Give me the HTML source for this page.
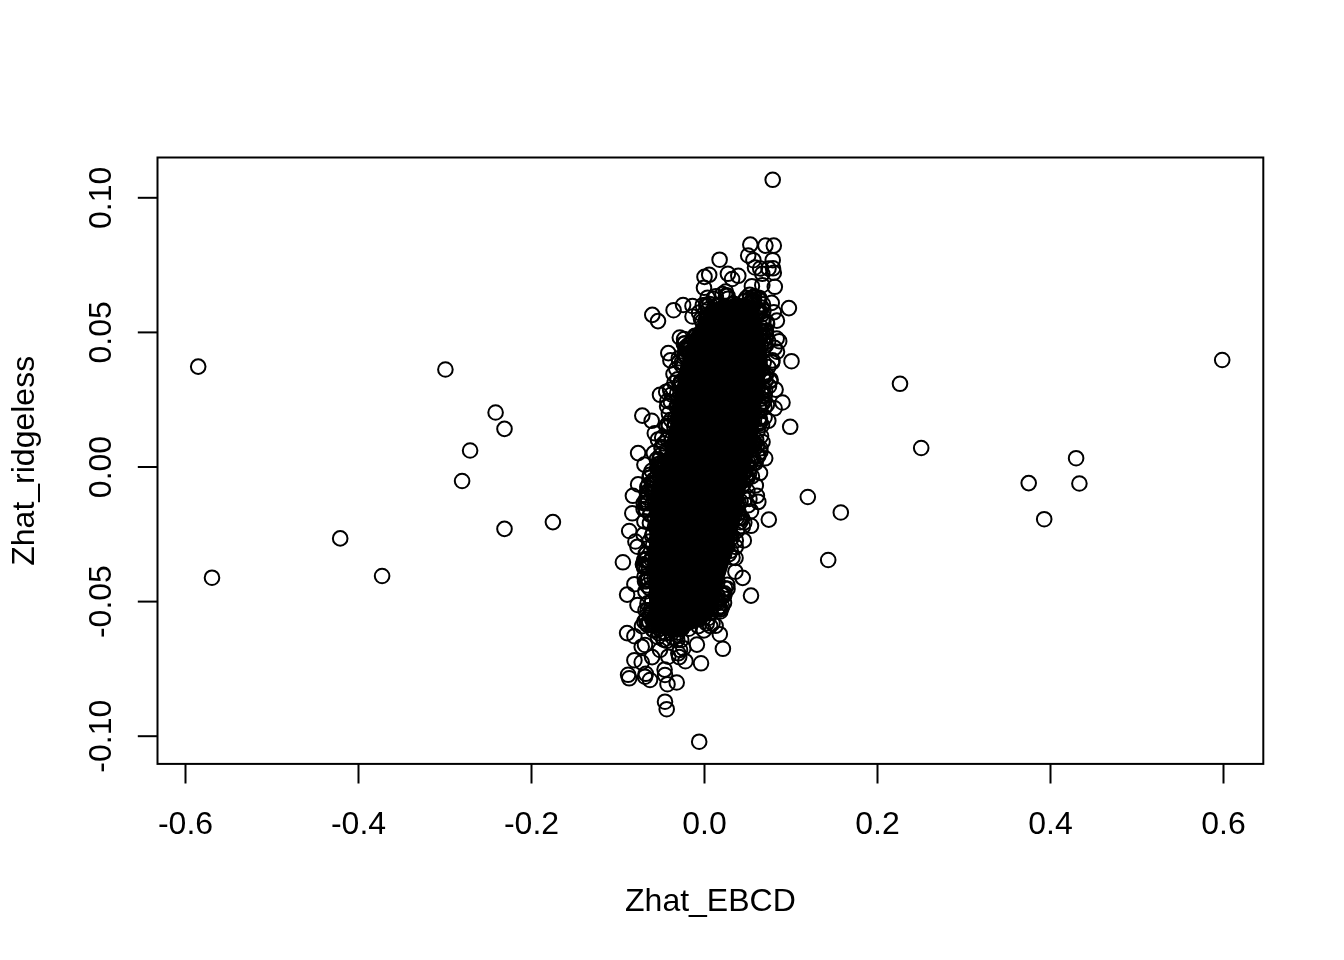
<!DOCTYPE html>
<html><head><meta charset="utf-8"><style>
html,body{margin:0;padding:0;background:#fff;}
body{width:1344px;height:960px;overflow:hidden;}
svg{display:block;will-change:transform;}
text{font-family:"Liberation Sans",sans-serif;font-size:32px;fill:#000;}
</style></head><body>
<svg width="1344" height="960" viewBox="0 0 1344 960">
<rect x="0" y="0" width="1344" height="960" fill="#fff"/>

<rect x="157.5" y="157.5" width="1105.8" height="606.4" fill="none" stroke="#000" stroke-width="2"/>
<line x1="185.50" y1="763.9" x2="185.50" y2="783.5" stroke="#000" stroke-width="2"/><text x="185.50" y="834" text-anchor="middle">-0.6</text><line x1="358.50" y1="763.9" x2="358.50" y2="783.5" stroke="#000" stroke-width="2"/><text x="358.50" y="834" text-anchor="middle">-0.4</text><line x1="531.50" y1="763.9" x2="531.50" y2="783.5" stroke="#000" stroke-width="2"/><text x="531.50" y="834" text-anchor="middle">-0.2</text><line x1="704.50" y1="763.9" x2="704.50" y2="783.5" stroke="#000" stroke-width="2"/><text x="704.50" y="834" text-anchor="middle">0.0</text><line x1="877.50" y1="763.9" x2="877.50" y2="783.5" stroke="#000" stroke-width="2"/><text x="877.50" y="834" text-anchor="middle">0.2</text><line x1="1050.50" y1="763.9" x2="1050.50" y2="783.5" stroke="#000" stroke-width="2"/><text x="1050.50" y="834" text-anchor="middle">0.4</text><line x1="1223.50" y1="763.9" x2="1223.50" y2="783.5" stroke="#000" stroke-width="2"/><text x="1223.50" y="834" text-anchor="middle">0.6</text>
<line x1="137.8" y1="197.80" x2="157.5" y2="197.80" stroke="#000" stroke-width="2"/><text transform="translate(111,197.80) rotate(-90)" text-anchor="middle">0.10</text><line x1="137.8" y1="332.40" x2="157.5" y2="332.40" stroke="#000" stroke-width="2"/><text transform="translate(111,332.40) rotate(-90)" text-anchor="middle">0.05</text><line x1="137.8" y1="467.00" x2="157.5" y2="467.00" stroke="#000" stroke-width="2"/><text transform="translate(111,467.00) rotate(-90)" text-anchor="middle">0.00</text><line x1="137.8" y1="601.60" x2="157.5" y2="601.60" stroke="#000" stroke-width="2"/><text transform="translate(111,601.60) rotate(-90)" text-anchor="middle">-0.05</text><line x1="137.8" y1="736.20" x2="157.5" y2="736.20" stroke="#000" stroke-width="2"/><text transform="translate(111,736.20) rotate(-90)" text-anchor="middle">-0.10</text>
<text x="710.4" y="910.5" text-anchor="middle">Zhat_EBCD</text>
<text transform="translate(33.75,460.8) rotate(-90)" text-anchor="middle">Zhat_ridgeless</text>
<path d="M689.5,335.2 L684.8,349.3 L681.9,364.0 L681.9,364.2 L671.9,405.8 L670.0,426.5 L669.9,426.9 L665.9,447.9 L665.8,448.4 L665.7,448.8 L659.7,464.8 L659.7,464.8 L652.8,482.4 L649.0,502.3 L650.0,521.8 L650.0,522.2 L649.0,543.2 L649.0,543.5 L647.0,564.0 L649.0,584.5 L649.0,585.0 L649.0,606.0 L649.0,606.4 L648.9,606.8 L646.3,622.7 L653.9,632.6 L670.0,636.8 L687.3,632.3 L706.6,623.1 L714.5,611.6 L719.2,599.6 L723.1,581.9 L723.3,581.4 L729.2,563.6 L734.1,542.8 L734.2,542.6 L740.1,522.0 L743.1,501.3 L743.1,501.0 L747.1,481.0 L747.1,480.8 L752.1,459.8 L752.3,459.3 L757.1,445.9 L759.0,426.5 L761.0,405.5 L761.1,405.3 L764.1,384.3 L764.1,384.1 L767.9,361.9 L766.1,345.7 L762.1,322.9 L757.7,302.0 L744.5,298.1 L719.5,299.9 L709.4,305.8 L700.1,318.8 L689.5,335.2 Z" fill="#000"/>
<g fill="none" stroke="#000" stroke-width="2.0"><circle cx="763.4" cy="310.9" r="7.3"/><circle cx="655.0" cy="518.6" r="7.3"/><circle cx="717.7" cy="595.8" r="7.3"/><circle cx="645.5" cy="610.3" r="7.3"/><circle cx="743.8" cy="306.7" r="7.3"/><circle cx="662.2" cy="465.1" r="7.3"/><circle cx="658.9" cy="519.7" r="7.3"/><circle cx="732.5" cy="557.5" r="7.3"/><circle cx="769.0" cy="386.2" r="7.3"/><circle cx="679.9" cy="412.0" r="7.3"/><circle cx="701.0" cy="319.1" r="7.3"/><circle cx="680.8" cy="382.7" r="7.3"/><circle cx="762.9" cy="375.1" r="7.3"/><circle cx="706.6" cy="319.5" r="7.3"/><circle cx="730.6" cy="550.8" r="7.3"/><circle cx="757.9" cy="388.1" r="7.3"/><circle cx="763.2" cy="377.0" r="7.3"/><circle cx="749.6" cy="434.0" r="7.3"/><circle cx="661.0" cy="463.1" r="7.3"/><circle cx="653.2" cy="619.2" r="7.3"/><circle cx="684.1" cy="339.1" r="7.3"/><circle cx="753.6" cy="301.8" r="7.3"/><circle cx="646.3" cy="553.7" r="7.3"/><circle cx="679.7" cy="384.7" r="7.3"/><circle cx="657.2" cy="468.2" r="7.3"/><circle cx="757.0" cy="445.4" r="7.3"/><circle cx="666.3" cy="426.1" r="7.3"/><circle cx="717.7" cy="603.1" r="7.3"/><circle cx="708.9" cy="315.7" r="7.3"/><circle cx="653.5" cy="493.5" r="7.3"/><circle cx="764.7" cy="342.4" r="7.3"/><circle cx="646.3" cy="567.9" r="7.3"/><circle cx="740.6" cy="501.3" r="7.3"/><circle cx="719.4" cy="606.5" r="7.3"/><circle cx="710.6" cy="611.9" r="7.3"/><circle cx="712.6" cy="589.9" r="7.3"/><circle cx="707.5" cy="305.8" r="7.3"/><circle cx="685.5" cy="347.6" r="7.3"/><circle cx="734.5" cy="515.9" r="7.3"/><circle cx="724.0" cy="602.9" r="7.3"/><circle cx="650.5" cy="513.4" r="7.3"/><circle cx="672.0" cy="445.6" r="7.3"/><circle cx="720.3" cy="611.5" r="7.3"/><circle cx="677.4" cy="632.7" r="7.3"/><circle cx="759.0" cy="418.2" r="7.3"/><circle cx="689.7" cy="369.8" r="7.3"/><circle cx="645.7" cy="502.9" r="7.3"/><circle cx="668.2" cy="423.3" r="7.3"/><circle cx="653.8" cy="483.9" r="7.3"/><circle cx="688.7" cy="628.7" r="7.3"/><circle cx="713.5" cy="298.7" r="7.3"/><circle cx="682.5" cy="627.3" r="7.3"/><circle cx="716.4" cy="602.1" r="7.3"/><circle cx="742.1" cy="486.4" r="7.3"/><circle cx="706.7" cy="623.4" r="7.3"/><circle cx="653.8" cy="630.4" r="7.3"/><circle cx="706.0" cy="320.1" r="7.3"/><circle cx="765.8" cy="345.5" r="7.3"/><circle cx="663.7" cy="443.5" r="7.3"/><circle cx="647.6" cy="492.6" r="7.3"/><circle cx="764.5" cy="407.4" r="7.3"/><circle cx="656.8" cy="592.5" r="7.3"/><circle cx="703.9" cy="329.1" r="7.3"/><circle cx="655.1" cy="526.3" r="7.3"/><circle cx="753.7" cy="300.4" r="7.3"/><circle cx="740.3" cy="475.3" r="7.3"/><circle cx="762.5" cy="331.8" r="7.3"/><circle cx="759.9" cy="339.3" r="7.3"/><circle cx="649.4" cy="562.1" r="7.3"/><circle cx="750.5" cy="458.7" r="7.3"/><circle cx="702.3" cy="321.4" r="7.3"/><circle cx="729.7" cy="535.9" r="7.3"/><circle cx="754.3" cy="296.3" r="7.3"/><circle cx="710.9" cy="604.7" r="7.3"/><circle cx="657.8" cy="637.0" r="7.3"/><circle cx="705.7" cy="326.3" r="7.3"/><circle cx="763.5" cy="320.9" r="7.3"/><circle cx="765.2" cy="331.8" r="7.3"/><circle cx="649.8" cy="588.4" r="7.3"/><circle cx="770.6" cy="379.7" r="7.3"/><circle cx="652.1" cy="492.9" r="7.3"/><circle cx="765.4" cy="381.0" r="7.3"/><circle cx="740.3" cy="517.8" r="7.3"/><circle cx="753.1" cy="458.5" r="7.3"/><circle cx="719.7" cy="305.1" r="7.3"/><circle cx="678.8" cy="358.2" r="7.3"/><circle cx="760.4" cy="448.3" r="7.3"/><circle cx="760.4" cy="451.7" r="7.3"/><circle cx="652.1" cy="535.7" r="7.3"/><circle cx="752.4" cy="403.2" r="7.3"/><circle cx="677.6" cy="431.5" r="7.3"/><circle cx="650.0" cy="474.7" r="7.3"/><circle cx="682.2" cy="627.0" r="7.3"/><circle cx="662.2" cy="437.6" r="7.3"/><circle cx="648.7" cy="566.9" r="7.3"/><circle cx="738.9" cy="503.7" r="7.3"/><circle cx="768.2" cy="367.1" r="7.3"/><circle cx="727.2" cy="545.9" r="7.3"/><circle cx="749.9" cy="298.6" r="7.3"/><circle cx="756.2" cy="439.8" r="7.3"/><circle cx="755.6" cy="463.0" r="7.3"/><circle cx="680.0" cy="413.4" r="7.3"/><circle cx="763.7" cy="362.3" r="7.3"/><circle cx="683.8" cy="343.7" r="7.3"/><circle cx="743.4" cy="471.6" r="7.3"/><circle cx="645.4" cy="591.4" r="7.3"/><circle cx="680.1" cy="388.3" r="7.3"/><circle cx="668.7" cy="426.4" r="7.3"/><circle cx="727.5" cy="588.9" r="7.3"/><circle cx="765.1" cy="390.4" r="7.3"/><circle cx="736.2" cy="305.1" r="7.3"/><circle cx="678.0" cy="405.5" r="7.3"/><circle cx="649.9" cy="523.1" r="7.3"/><circle cx="664.7" cy="461.4" r="7.3"/><circle cx="744.3" cy="472.8" r="7.3"/><circle cx="667.6" cy="438.9" r="7.3"/><circle cx="676.3" cy="369.0" r="7.3"/><circle cx="759.2" cy="312.6" r="7.3"/><circle cx="747.2" cy="307.6" r="7.3"/><circle cx="726.1" cy="295.4" r="7.3"/><circle cx="646.0" cy="499.7" r="7.3"/><circle cx="748.9" cy="474.4" r="7.3"/><circle cx="652.4" cy="504.0" r="7.3"/><circle cx="682.0" cy="627.8" r="7.3"/><circle cx="733.7" cy="303.9" r="7.3"/><circle cx="671.1" cy="419.8" r="7.3"/><circle cx="677.1" cy="393.5" r="7.3"/><circle cx="762.0" cy="425.0" r="7.3"/><circle cx="665.7" cy="473.5" r="7.3"/><circle cx="656.6" cy="594.7" r="7.3"/><circle cx="759.2" cy="297.9" r="7.3"/><circle cx="711.6" cy="312.1" r="7.3"/><circle cx="689.3" cy="344.5" r="7.3"/><circle cx="756.5" cy="308.4" r="7.3"/><circle cx="764.6" cy="395.9" r="7.3"/><circle cx="749.7" cy="294.7" r="7.3"/><circle cx="748.1" cy="505.3" r="7.3"/><circle cx="676.5" cy="406.6" r="7.3"/><circle cx="759.2" cy="405.3" r="7.3"/><circle cx="746.5" cy="297.8" r="7.3"/><circle cx="714.2" cy="314.4" r="7.3"/><circle cx="689.6" cy="349.4" r="7.3"/><circle cx="666.3" cy="633.5" r="7.3"/><circle cx="747.2" cy="449.5" r="7.3"/><circle cx="667.4" cy="401.0" r="7.3"/><circle cx="690.4" cy="358.9" r="7.3"/><circle cx="766.0" cy="374.5" r="7.3"/><circle cx="685.6" cy="350.0" r="7.3"/><circle cx="647.6" cy="579.9" r="7.3"/><circle cx="759.7" cy="410.0" r="7.3"/><circle cx="751.4" cy="445.9" r="7.3"/><circle cx="733.4" cy="303.7" r="7.3"/><circle cx="687.6" cy="348.1" r="7.3"/><circle cx="647.7" cy="610.3" r="7.3"/><circle cx="681.0" cy="381.4" r="7.3"/><circle cx="752.7" cy="445.9" r="7.3"/><circle cx="757.4" cy="456.1" r="7.3"/><circle cx="675.3" cy="418.0" r="7.3"/><circle cx="749.1" cy="469.0" r="7.3"/><circle cx="677.0" cy="634.9" r="7.3"/><circle cx="753.4" cy="397.3" r="7.3"/><circle cx="754.3" cy="396.4" r="7.3"/><circle cx="693.8" cy="620.4" r="7.3"/><circle cx="727.9" cy="298.7" r="7.3"/><circle cx="761.0" cy="436.0" r="7.3"/><circle cx="724.2" cy="595.4" r="7.3"/><circle cx="761.4" cy="327.5" r="7.3"/><circle cx="658.1" cy="496.4" r="7.3"/><circle cx="685.8" cy="375.5" r="7.3"/><circle cx="643.6" cy="509.1" r="7.3"/><circle cx="659.6" cy="476.6" r="7.3"/><circle cx="751.2" cy="301.4" r="7.3"/><circle cx="678.4" cy="398.6" r="7.3"/><circle cx="677.7" cy="418.0" r="7.3"/><circle cx="680.5" cy="406.5" r="7.3"/><circle cx="758.3" cy="455.9" r="7.3"/><circle cx="647.3" cy="487.0" r="7.3"/><circle cx="659.2" cy="459.7" r="7.3"/><circle cx="654.7" cy="578.1" r="7.3"/><circle cx="726.7" cy="545.5" r="7.3"/><circle cx="646.5" cy="559.1" r="7.3"/><circle cx="753.2" cy="403.6" r="7.3"/><circle cx="679.1" cy="362.0" r="7.3"/><circle cx="698.3" cy="626.1" r="7.3"/><circle cx="666.4" cy="453.2" r="7.3"/><circle cx="736.7" cy="518.0" r="7.3"/><circle cx="752.1" cy="408.4" r="7.3"/><circle cx="650.3" cy="615.3" r="7.3"/><circle cx="681.5" cy="625.5" r="7.3"/><circle cx="739.4" cy="484.3" r="7.3"/><circle cx="753.2" cy="305.4" r="7.3"/><circle cx="660.7" cy="470.5" r="7.3"/><circle cx="740.2" cy="522.2" r="7.3"/><circle cx="754.5" cy="388.0" r="7.3"/><circle cx="708.4" cy="618.0" r="7.3"/><circle cx="650.3" cy="613.3" r="7.3"/><circle cx="646.7" cy="581.3" r="7.3"/><circle cx="761.2" cy="393.0" r="7.3"/><circle cx="717.4" cy="581.9" r="7.3"/><circle cx="737.0" cy="530.7" r="7.3"/><circle cx="667.1" cy="406.3" r="7.3"/><circle cx="760.0" cy="423.2" r="7.3"/><circle cx="713.9" cy="312.3" r="7.3"/><circle cx="719.8" cy="609.5" r="7.3"/><circle cx="766.0" cy="331.1" r="7.3"/><circle cx="674.3" cy="426.4" r="7.3"/><circle cx="644.5" cy="576.6" r="7.3"/><circle cx="745.0" cy="499.2" r="7.3"/><circle cx="649.2" cy="541.6" r="7.3"/><circle cx="661.6" cy="447.0" r="7.3"/><circle cx="682.0" cy="365.5" r="7.3"/><circle cx="760.7" cy="345.8" r="7.3"/><circle cx="765.0" cy="376.3" r="7.3"/><circle cx="658.1" cy="524.7" r="7.3"/><circle cx="647.2" cy="585.4" r="7.3"/><circle cx="746.1" cy="479.6" r="7.3"/><circle cx="766.2" cy="335.4" r="7.3"/><circle cx="702.8" cy="305.2" r="7.3"/><circle cx="652.0" cy="484.5" r="7.3"/><circle cx="764.6" cy="417.3" r="7.3"/><circle cx="688.2" cy="367.5" r="7.3"/><circle cx="645.7" cy="509.4" r="7.3"/><circle cx="647.5" cy="603.4" r="7.3"/><circle cx="735.5" cy="558.0" r="7.3"/><circle cx="686.6" cy="357.0" r="7.3"/><circle cx="654.1" cy="489.2" r="7.3"/><circle cx="760.3" cy="336.4" r="7.3"/><circle cx="762.9" cy="304.3" r="7.3"/><circle cx="688.5" cy="367.6" r="7.3"/><circle cx="663.3" cy="632.1" r="7.3"/><circle cx="753.4" cy="302.7" r="7.3"/><circle cx="763.9" cy="401.4" r="7.3"/><circle cx="696.1" cy="336.3" r="7.3"/><circle cx="723.5" cy="549.9" r="7.3"/><circle cx="648.1" cy="625.2" r="7.3"/><circle cx="665.3" cy="466.6" r="7.3"/><circle cx="757.7" cy="430.7" r="7.3"/><circle cx="759.3" cy="421.5" r="7.3"/><circle cx="762.6" cy="403.4" r="7.3"/><circle cx="646.8" cy="497.4" r="7.3"/><circle cx="684.6" cy="354.6" r="7.3"/><circle cx="724.5" cy="593.4" r="7.3"/><circle cx="650.1" cy="514.6" r="7.3"/><circle cx="737.3" cy="507.8" r="7.3"/><circle cx="753.4" cy="297.4" r="7.3"/><circle cx="759.3" cy="299.3" r="7.3"/><circle cx="703.9" cy="630.4" r="7.3"/><circle cx="644.4" cy="521.4" r="7.3"/><circle cx="758.6" cy="313.7" r="7.3"/><circle cx="681.0" cy="629.5" r="7.3"/><circle cx="715.1" cy="600.2" r="7.3"/><circle cx="702.3" cy="613.5" r="7.3"/><circle cx="729.1" cy="554.1" r="7.3"/><circle cx="754.3" cy="444.7" r="7.3"/><circle cx="647.8" cy="503.3" r="7.3"/><circle cx="721.2" cy="593.9" r="7.3"/><circle cx="736.8" cy="503.1" r="7.3"/><circle cx="695.0" cy="335.7" r="7.3"/><circle cx="663.4" cy="639.5" r="7.3"/><circle cx="659.2" cy="469.6" r="7.3"/><circle cx="688.4" cy="345.2" r="7.3"/><circle cx="662.2" cy="466.2" r="7.3"/><circle cx="643.6" cy="534.6" r="7.3"/><circle cx="750.9" cy="444.0" r="7.3"/><circle cx="652.7" cy="629.3" r="7.3"/><circle cx="736.7" cy="487.4" r="7.3"/><circle cx="738.8" cy="512.9" r="7.3"/><circle cx="742.9" cy="526.5" r="7.3"/><circle cx="673.3" cy="638.0" r="7.3"/><circle cx="668.9" cy="413.8" r="7.3"/><circle cx="722.5" cy="594.6" r="7.3"/><circle cx="646.1" cy="619.6" r="7.3"/><circle cx="649.4" cy="622.0" r="7.3"/><circle cx="646.9" cy="624.3" r="7.3"/><circle cx="674.6" cy="382.9" r="7.3"/><circle cx="660.5" cy="455.4" r="7.3"/><circle cx="653.8" cy="479.7" r="7.3"/><circle cx="742.1" cy="480.3" r="7.3"/><circle cx="642.9" cy="564.3" r="7.3"/><circle cx="699.4" cy="619.1" r="7.3"/><circle cx="660.7" cy="467.0" r="7.3"/><circle cx="718.0" cy="570.9" r="7.3"/><circle cx="718.4" cy="607.7" r="7.3"/><circle cx="731.7" cy="537.9" r="7.3"/><circle cx="657.7" cy="605.7" r="7.3"/><circle cx="722.1" cy="606.5" r="7.3"/><circle cx="651.3" cy="577.7" r="7.3"/><circle cx="648.4" cy="579.2" r="7.3"/><circle cx="760.8" cy="368.4" r="7.3"/><circle cx="675.2" cy="424.1" r="7.3"/><circle cx="727.5" cy="295.8" r="7.3"/><circle cx="709.3" cy="613.2" r="7.3"/><circle cx="717.9" cy="608.6" r="7.3"/><circle cx="765.6" cy="338.6" r="7.3"/><circle cx="644.2" cy="560.1" r="7.3"/><circle cx="759.9" cy="418.7" r="7.3"/><circle cx="762.9" cy="388.1" r="7.3"/><circle cx="768.2" cy="341.3" r="7.3"/><circle cx="671.5" cy="440.2" r="7.3"/><circle cx="770.1" cy="381.1" r="7.3"/><circle cx="643.5" cy="565.2" r="7.3"/><circle cx="699.0" cy="312.6" r="7.3"/><circle cx="654.0" cy="625.8" r="7.3"/><circle cx="735.7" cy="546.9" r="7.3"/><circle cx="655.0" cy="503.7" r="7.3"/><circle cx="654.1" cy="622.2" r="7.3"/><circle cx="686.0" cy="355.4" r="7.3"/><circle cx="670.9" cy="402.0" r="7.3"/><circle cx="659.5" cy="628.8" r="7.3"/><circle cx="704.9" cy="613.5" r="7.3"/><circle cx="762.1" cy="314.3" r="7.3"/><circle cx="747.4" cy="491.0" r="7.3"/><circle cx="764.3" cy="395.1" r="7.3"/><circle cx="652.2" cy="556.7" r="7.3"/><circle cx="750.3" cy="303.0" r="7.3"/><circle cx="713.1" cy="592.2" r="7.3"/><circle cx="758.8" cy="354.0" r="7.3"/><circle cx="663.9" cy="639.7" r="7.3"/><circle cx="757.2" cy="374.1" r="7.3"/><circle cx="644.1" cy="567.4" r="7.3"/><circle cx="682.1" cy="362.0" r="7.3"/><circle cx="751.9" cy="476.4" r="7.3"/><circle cx="758.6" cy="299.8" r="7.3"/><circle cx="744.5" cy="301.1" r="7.3"/><circle cx="716.7" cy="595.2" r="7.3"/><circle cx="759.4" cy="339.7" r="7.3"/><circle cx="657.2" cy="476.8" r="7.3"/><circle cx="674.8" cy="629.5" r="7.3"/><circle cx="651.5" cy="559.5" r="7.3"/><circle cx="666.9" cy="640.8" r="7.3"/><circle cx="696.2" cy="341.5" r="7.3"/><circle cx="647.0" cy="492.2" r="7.3"/><circle cx="750.0" cy="456.0" r="7.3"/><circle cx="677.2" cy="639.9" r="7.3"/><circle cx="744.3" cy="522.4" r="7.3"/><circle cx="656.6" cy="523.9" r="7.3"/><circle cx="681.4" cy="404.1" r="7.3"/><circle cx="762.5" cy="320.0" r="7.3"/><circle cx="717.9" cy="304.7" r="7.3"/><circle cx="757.0" cy="308.6" r="7.3"/><circle cx="656.8" cy="459.4" r="7.3"/><circle cx="711.6" cy="316.7" r="7.3"/><circle cx="669.1" cy="463.5" r="7.3"/><circle cx="752.3" cy="421.1" r="7.3"/><circle cx="741.5" cy="306.9" r="7.3"/><circle cx="644.3" cy="621.6" r="7.3"/><circle cx="645.0" cy="581.3" r="7.3"/><circle cx="652.2" cy="600.7" r="7.3"/><circle cx="642.0" cy="626.2" r="7.3"/><circle cx="652.2" cy="619.6" r="7.3"/><circle cx="715.8" cy="296.2" r="7.3"/><circle cx="671.5" cy="633.3" r="7.3"/><circle cx="659.0" cy="633.3" r="7.3"/><circle cx="705.9" cy="609.9" r="7.3"/><circle cx="743.7" cy="483.7" r="7.3"/><circle cx="772.1" cy="362.5" r="7.3"/><circle cx="735.8" cy="540.4" r="7.3"/><circle cx="645.2" cy="560.1" r="7.3"/><circle cx="645.7" cy="553.9" r="7.3"/><circle cx="766.9" cy="404.6" r="7.3"/><circle cx="767.1" cy="323.9" r="7.3"/><circle cx="661.7" cy="448.6" r="7.3"/><circle cx="717.0" cy="310.2" r="7.3"/><circle cx="655.0" cy="482.2" r="7.3"/><circle cx="749.4" cy="499.0" r="7.3"/><circle cx="708.1" cy="309.5" r="7.3"/><circle cx="724.2" cy="553.8" r="7.3"/><circle cx="742.2" cy="518.3" r="7.3"/><circle cx="678.5" cy="427.6" r="7.3"/><circle cx="705.2" cy="611.7" r="7.3"/><circle cx="658.8" cy="492.0" r="7.3"/><circle cx="707.1" cy="314.7" r="7.3"/><circle cx="653.1" cy="545.3" r="7.3"/><circle cx="761.9" cy="307.6" r="7.3"/><circle cx="648.5" cy="484.7" r="7.3"/><circle cx="754.6" cy="444.7" r="7.3"/><circle cx="761.3" cy="398.7" r="7.3"/><circle cx="746.9" cy="464.9" r="7.3"/><circle cx="643.7" cy="503.1" r="7.3"/><circle cx="671.1" cy="628.9" r="7.3"/><circle cx="650.7" cy="610.3" r="7.3"/><circle cx="685.0" cy="343.2" r="7.3"/><circle cx="658.2" cy="464.4" r="7.3"/><circle cx="710.1" cy="625.9" r="7.3"/><circle cx="663.0" cy="469.1" r="7.3"/><circle cx="759.8" cy="330.1" r="7.3"/><circle cx="706.9" cy="609.4" r="7.3"/><circle cx="747.5" cy="477.8" r="7.3"/><circle cx="706.2" cy="304.7" r="7.3"/><circle cx="652.5" cy="611.8" r="7.3"/><circle cx="753.8" cy="441.4" r="7.3"/><circle cx="753.8" cy="462.5" r="7.3"/><circle cx="718.0" cy="599.6" r="7.3"/><circle cx="766.7" cy="322.1" r="7.3"/><circle cx="747.6" cy="461.3" r="7.3"/><circle cx="722.5" cy="294.0" r="7.3"/><circle cx="727.3" cy="584.8" r="7.3"/><circle cx="670.1" cy="389.8" r="7.3"/><circle cx="649.4" cy="477.7" r="7.3"/><circle cx="671.5" cy="394.5" r="7.3"/><circle cx="758.7" cy="312.0" r="7.3"/><circle cx="681.2" cy="640.0" r="7.3"/><circle cx="647.5" cy="502.8" r="7.3"/><circle cx="653.0" cy="533.4" r="7.3"/><circle cx="677.6" cy="379.3" r="7.3"/><circle cx="198.2" cy="366.6" r="7.3"/><circle cx="340.2" cy="538.4" r="7.3"/><circle cx="212.0" cy="577.7" r="7.3"/><circle cx="445.4" cy="369.5" r="7.3"/><circle cx="495.6" cy="412.5" r="7.3"/><circle cx="504.5" cy="428.9" r="7.3"/><circle cx="470.1" cy="450.5" r="7.3"/><circle cx="462.1" cy="481.0" r="7.3"/><circle cx="504.5" cy="528.9" r="7.3"/><circle cx="552.9" cy="522.1" r="7.3"/><circle cx="382.1" cy="576.0" r="7.3"/><circle cx="772.7" cy="179.8" r="7.3"/><circle cx="791.5" cy="361.2" r="7.3"/><circle cx="900.0" cy="383.8" r="7.3"/><circle cx="782.5" cy="402.5" r="7.3"/><circle cx="790.2" cy="426.8" r="7.3"/><circle cx="921.2" cy="448.0" r="7.3"/><circle cx="807.8" cy="497.0" r="7.3"/><circle cx="840.8" cy="512.5" r="7.3"/><circle cx="828.2" cy="560.0" r="7.3"/><circle cx="1222.2" cy="360.0" r="7.3"/><circle cx="1076.1" cy="458.2" r="7.3"/><circle cx="1028.7" cy="483.1" r="7.3"/><circle cx="1079.4" cy="483.5" r="7.3"/><circle cx="1044.2" cy="519.2" r="7.3"/><circle cx="699.2" cy="741.7" r="7.3"/><circle cx="750.3" cy="244.6" r="7.3"/><circle cx="765.4" cy="245.6" r="7.3"/><circle cx="773.8" cy="245.6" r="7.3"/><circle cx="748.2" cy="255.5" r="7.3"/><circle cx="753.4" cy="260.2" r="7.3"/><circle cx="772.7" cy="260.2" r="7.3"/><circle cx="719.6" cy="259.7" r="7.3"/><circle cx="760.2" cy="268.5" r="7.3"/><circle cx="768.5" cy="268.5" r="7.3"/><circle cx="773.8" cy="272.7" r="7.3"/><circle cx="755.0" cy="267.5" r="7.3"/><circle cx="762.3" cy="273.8" r="7.3"/><circle cx="704.5" cy="276.9" r="7.3"/><circle cx="709.2" cy="274.8" r="7.3"/><circle cx="727.9" cy="273.8" r="7.3"/><circle cx="738.3" cy="275.8" r="7.3"/><circle cx="732.1" cy="279.0" r="7.3"/><circle cx="704.0" cy="287.8" r="7.3"/><circle cx="751.9" cy="286.2" r="7.3"/><circle cx="762.3" cy="285.2" r="7.3"/><circle cx="774.8" cy="286.8" r="7.3"/><circle cx="707.6" cy="297.7" r="7.3"/><circle cx="725.8" cy="291.5" r="7.3"/><circle cx="788.9" cy="308.1" r="7.3"/><circle cx="771.7" cy="302.9" r="7.3"/><circle cx="683.1" cy="305.0" r="7.3"/><circle cx="692.5" cy="306.0" r="7.3"/><circle cx="692.5" cy="316.5" r="7.3"/><circle cx="776.9" cy="320.6" r="7.3"/><circle cx="773.8" cy="312.3" r="7.3"/><circle cx="652.3" cy="314.9" r="7.3"/><circle cx="658.0" cy="321.1" r="7.3"/><circle cx="673.6" cy="310.2" r="7.3"/><circle cx="709.6" cy="304.0" r="7.3"/><circle cx="679.8" cy="337.5" r="7.3"/><circle cx="668.3" cy="353.1" r="7.3"/><circle cx="670.4" cy="360.4" r="7.3"/><circle cx="776.7" cy="338.5" r="7.3"/><circle cx="774.6" cy="347.9" r="7.3"/><circle cx="772.5" cy="360.4" r="7.3"/><circle cx="673.5" cy="374.0" r="7.3"/><circle cx="660.0" cy="394.8" r="7.3"/><circle cx="666.2" cy="391.7" r="7.3"/><circle cx="642.3" cy="415.6" r="7.3"/><circle cx="651.7" cy="420.8" r="7.3"/><circle cx="654.8" cy="433.3" r="7.3"/><circle cx="657.9" cy="439.6" r="7.3"/><circle cx="775.6" cy="389.6" r="7.3"/><circle cx="774.6" cy="408.3" r="7.3"/><circle cx="768.3" cy="420.8" r="7.3"/><circle cx="638.1" cy="453.1" r="7.3"/><circle cx="644.4" cy="464.6" r="7.3"/><circle cx="651.7" cy="470.8" r="7.3"/><circle cx="653.8" cy="453.1" r="7.3"/><circle cx="765.2" cy="458.3" r="7.3"/><circle cx="760.0" cy="472.9" r="7.3"/><circle cx="755.8" cy="485.4" r="7.3"/><circle cx="638.1" cy="484.4" r="7.3"/><circle cx="632.9" cy="495.8" r="7.3"/><circle cx="756.9" cy="495.8" r="7.3"/><circle cx="632.3" cy="513.3" r="7.3"/><circle cx="629.2" cy="531.0" r="7.3"/><circle cx="635.4" cy="541.5" r="7.3"/><circle cx="637.5" cy="546.7" r="7.3"/><circle cx="622.9" cy="562.3" r="7.3"/><circle cx="634.4" cy="584.2" r="7.3"/><circle cx="627.1" cy="594.6" r="7.3"/><circle cx="637.5" cy="605.0" r="7.3"/><circle cx="627.1" cy="633.1" r="7.3"/><circle cx="634.4" cy="636.2" r="7.3"/><circle cx="641.7" cy="646.7" r="7.3"/><circle cx="634.4" cy="660.2" r="7.3"/><circle cx="641.7" cy="662.3" r="7.3"/><circle cx="628.1" cy="674.8" r="7.3"/><circle cx="645.8" cy="673.8" r="7.3"/><circle cx="652.1" cy="657.1" r="7.3"/><circle cx="664.6" cy="669.6" r="7.3"/><circle cx="679.2" cy="657.1" r="7.3"/><circle cx="685.4" cy="661.2" r="7.3"/><circle cx="696.9" cy="644.6" r="7.3"/><circle cx="701.0" cy="663.3" r="7.3"/><circle cx="722.9" cy="648.8" r="7.3"/><circle cx="719.8" cy="634.2" r="7.3"/><circle cx="715.6" cy="625.8" r="7.3"/><circle cx="758.3" cy="501.9" r="7.3"/><circle cx="751.0" cy="511.2" r="7.3"/><circle cx="768.8" cy="519.6" r="7.3"/><circle cx="751.0" cy="525.8" r="7.3"/><circle cx="743.8" cy="540.4" r="7.3"/><circle cx="735.4" cy="571.7" r="7.3"/><circle cx="742.7" cy="577.9" r="7.3"/><circle cx="751.0" cy="595.6" r="7.3"/><circle cx="725.0" cy="588.3" r="7.3"/><circle cx="720.8" cy="609.2" r="7.3"/><circle cx="665.0" cy="701.7" r="7.3"/><circle cx="666.7" cy="709.2" r="7.3"/><circle cx="629.2" cy="678.3" r="7.3"/><circle cx="645.0" cy="676.7" r="7.3"/><circle cx="650.0" cy="680.0" r="7.3"/><circle cx="667.5" cy="684.2" r="7.3"/><circle cx="676.7" cy="682.5" r="7.3"/><circle cx="668.3" cy="656.7" r="7.3"/><circle cx="683.3" cy="648.3" r="7.3"/><circle cx="678.3" cy="653.3" r="7.3"/><circle cx="660.0" cy="650.0" r="7.3"/><circle cx="665.0" cy="675.0" r="7.3"/><circle cx="645.0" cy="645.0" r="7.3"/><circle cx="680.0" cy="650.0" r="7.3"/><circle cx="762.5" cy="442.0" r="7.3"/><circle cx="712.5" cy="623.3" r="7.3"/><circle cx="779.2" cy="341.2" r="7.3"/><circle cx="777.0" cy="351.7" r="7.3"/><circle cx="773.0" cy="268.3" r="7.3"/></g>
</svg></body></html>
